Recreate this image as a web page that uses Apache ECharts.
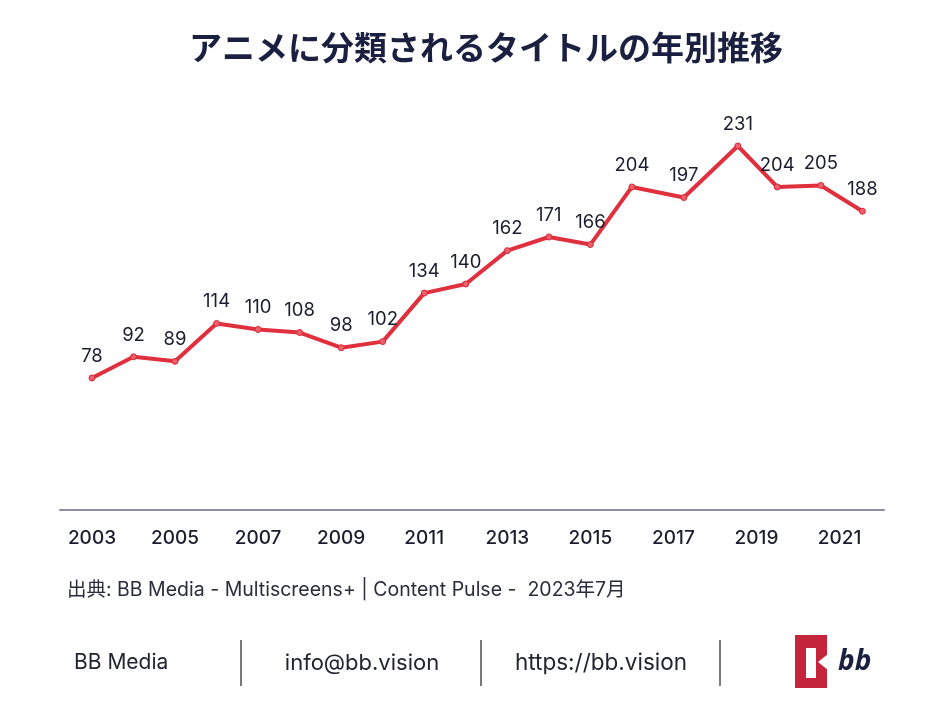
<!DOCTYPE html>
<html>
<head>
<meta charset="utf-8">
<script src="https://cdn.jsdelivr.net/npm/echarts@6/dist/echarts.min.js"></script>
<style>
html,body{margin:0;padding:0;background:#ffffff;}
#chart{width:944px;height:704px;}
</style>
</head>
<body>
<div id="chart"></div>
<script>
// Data
const years = [2003,2004,2005,2006,2007,2008,2009,2010,2011,2012,2013,2014,2015,2016,2017,2018,2019,2020,2021];
// horizontal position of each point on the time axis (in years)
const pointDates = [2003,2004,2005,2006,2007,2008,2009,2010,2011,2012,2013,2014,2015,2016,2017.25,2018.55,2019.5,2020.55,2021.55];
const titleCounts = [78,92,89,114,110,108,98,102,134,140,162,171,166,204,197,231,204,205,188];
const tickYears = [2003,2005,2007,2009,2011,2013,2015,2017,2019,2021];

const titleText = 'アニメに分類されるタイトルの年別推移';
const sourceText = '出典: BB Media - Multiscreens+ | Content Pulse -  2023年7月';

const seriesData = pointDates.map((d, i) => ({ value: [d, titleCounts[i]], year: years[i] }));

const chart = echarts.init(document.getElementById('chart'), null, { renderer: 'canvas' });
const sansCJK = "'Noto Sans CJK JP', 'Noto Sans', sans-serif";
const sans = "Inter, 'Noto Sans', 'Noto Sans CJK JP', sans-serif";

chart.setOption({
  backgroundColor: '#ffffff',
  animation: false,
  title: {
    text: titleText,
    left: 481,
    top: 26,
    textAlign: 'center',
    textStyle: { fontFamily: sansCJK, fontSize: 33, fontWeight: 'bold', color: '#1b2040' }
  },
  grid: { left: 60, right: 60, top: 117.2, bottom: 194.3 },
  xAxis: {
    type: 'value',
    min: 2002.23,
    max: 2022.07,
    axisLine: { show: true, onZero: false, lineStyle: { color: '#8b8fa6', width: 2 } },
    axisTick: { show: false },
    splitLine: { show: false },
    axisLabel: {
      customValues: tickYears,
      formatter: v => String(Math.round(v)),
      margin: 19,
      fontFamily: sans,
      fontSize: 19,
      fontWeight: 500,
      color: '#1b1d2e'
    }
  },
  yAxis: {
    type: 'value',
    min: -8.86,
    max: 250,
    show: false,
    splitLine: { show: false }
  },
  series: [{
    type: 'line',
    data: seriesData,
    symbol: 'circle',
    symbolSize: 6,
    lineStyle: { color: '#e0303e', width: 4 },
    itemStyle: { color: '#ef5f6b', borderColor: '#d42a38', borderWidth: 1 },
    label: {
      show: true,
      position: 'top',
      distance: 9,
      formatter: p => String(p.value[1]),
      fontFamily: sans,
      fontSize: 18.5,
      color: '#1b1d2e'
    }
  }],
  graphic: [
    { type: 'text', style: { text: sourceText, x: 67, y: 590, fill: '#2a2c3a', font: "19.5px " + sans, textAlign: 'left', textVerticalAlign: 'middle', verticalAlign: 'middle' } },
    { type: 'text', style: { text: 'BB Media', x: 74, y: 663, fill: '#22242e', font: "21px " + sans, textAlign: 'left', textVerticalAlign: 'middle', verticalAlign: 'middle' } },
    { type: 'line', shape: { x1: 241, y1: 640, x2: 241, y2: 686 }, style: { stroke: '#333', lineWidth: 1.3 } },
    { type: 'text', style: { text: 'info@bb.vision', x: 362, y: 663, fill: '#22242e', font: "22px " + sans, textAlign: 'center', textVerticalAlign: 'middle', verticalAlign: 'middle' } },
    { type: 'line', shape: { x1: 481, y1: 640, x2: 481, y2: 686 }, style: { stroke: '#333', lineWidth: 1.3 } },
    { type: 'text', style: { text: 'https://bb.vision', x: 601, y: 663, fill: '#22242e', font: "22.5px " + sans, textAlign: 'center', textVerticalAlign: 'middle', verticalAlign: 'middle' } },
    { type: 'line', shape: { x1: 720, y1: 640, x2: 720, y2: 686 }, style: { stroke: '#333', lineWidth: 1.3 } },
    { type: 'rect', shape: { x: 795, y: 635, width: 32, height: 53 }, style: { fill: '#c4243c' } },
    { type: 'rect', shape: { x: 806, y: 648, width: 10, height: 30 }, style: { fill: '#ffffff' } },
    { type: 'polygon', shape: { points: [[828, 654], [828, 670], [818, 662]] }, style: { fill: '#ffffff' } },
    { type: 'text', style: { text: 'bb', x: 838, y: 662, fill: '#1b2040', font: "italic bold 28px 'Noto Sans', sans-serif", textAlign: 'left', textVerticalAlign: 'middle', verticalAlign: 'middle' } }
  ]
});
</script>
</body>
</html>
